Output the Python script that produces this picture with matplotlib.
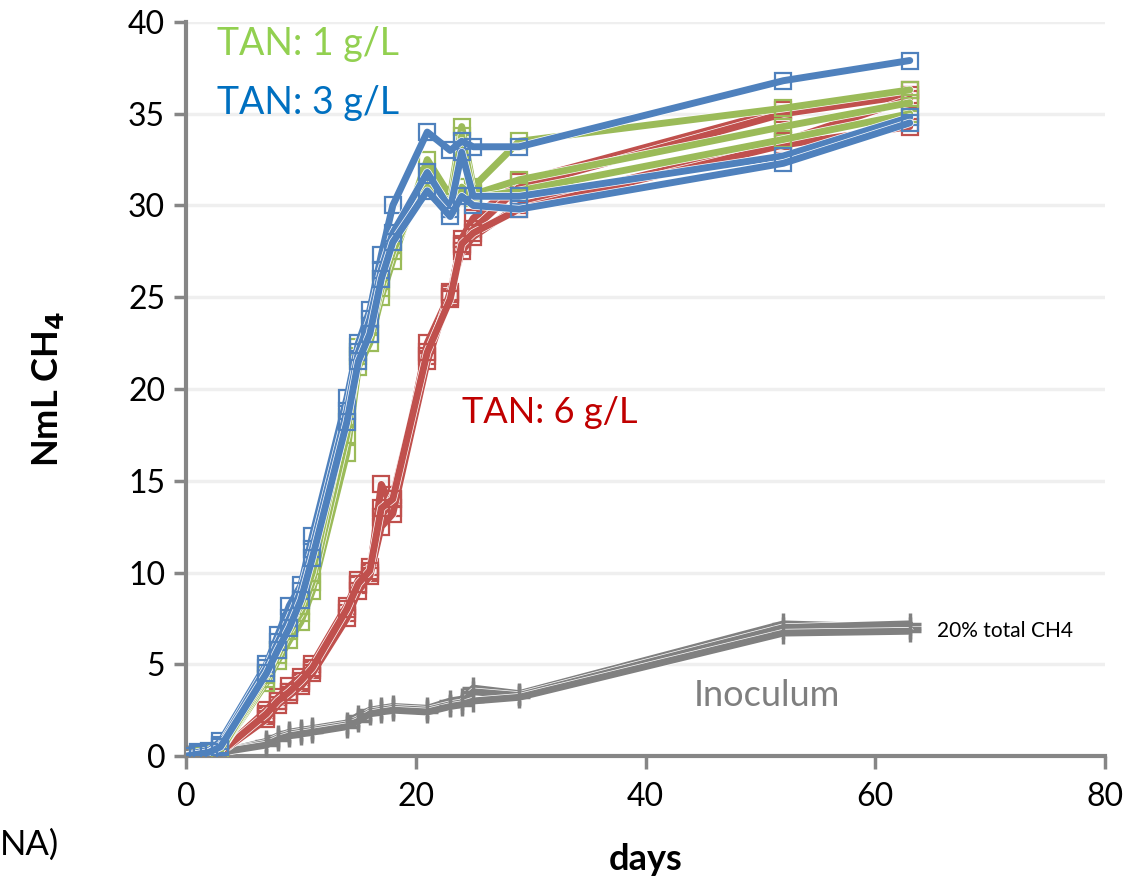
import matplotlib
matplotlib.use('Agg')
import matplotlib.pyplot as plt
import matplotlib.patheffects as pe

plt.rcParams['font.family'] = ['Lato', 'DejaVu Sans']

# dias de amostragem
dias = [0, 1, 2, 3, 7, 8, 9, 10, 11, 14, 15, 16, 17, 18, 21, 23, 24, 25, 29, 52, 63]

# TAN 1 g/L (verde)
tan1_r1 = [0, 0, 0.1, 0.3, 4.0, 5.2, 6.3, 7.3, 9.0, 16.5, 21.2, 22.5, 25.0, 27.0, 32.5, 30.5, 34.3, 31.0, 33.5, 35.3, 36.3]
tan1_r2 = [0, 0, 0.1, 0.3, 4.2, 5.5, 6.8, 7.8, 9.5, 17.5, 21.8, 23.0, 25.5, 27.5, 31.5, 30.0, 33.8, 30.6, 31.4, 34.3, 35.6]
tan1_r3 = [0, 0, 0.1, 0.3, 4.4, 5.8, 7.1, 8.2, 10.0, 18.5, 22.3, 23.5, 26.0, 28.0, 31.0, 30.2, 31.0, 30.4, 30.8, 33.6, 35.0]

# TAN 3 g/L (azul)
tan3_r1 = [0, 0.2, 0.3, 0.8, 5.0, 6.6, 8.2, 9.3, 12.0, 19.5, 22.5, 24.3, 27.3, 30.0, 34.0, 33.0, 33.5, 33.2, 33.2, 36.8, 37.9]
tan3_r2 = [0, 0.1, 0.2, 0.6, 4.8, 6.2, 7.5, 9.0, 11.3, 18.8, 22.0, 23.8, 26.5, 28.5, 31.8, 29.8, 32.9, 30.5, 30.5, 32.7, 34.8]
tan3_r3 = [0, 0.1, 0.2, 0.5, 4.5, 5.8, 7.0, 8.5, 10.8, 18.2, 21.5, 23.0, 26.0, 28.0, 30.8, 29.4, 30.5, 30.0, 29.8, 32.3, 34.5]

# TAN 6 g/L (vermelho)
tan6_r1 = [0, 0, 0.1, 0.2, 2.2, 3.0, 3.5, 4.0, 4.7, 7.8, 9.3, 10.0, 14.8, 13.5, 22.5, 25.2, 28.2, 29.3, 31.3, 35.2, 36.3]
tan6_r2 = [0, 0, 0.1, 0.2, 2.5, 3.2, 3.8, 4.3, 5.0, 8.2, 9.6, 10.3, 13.0, 14.2, 21.8, 25.0, 27.8, 28.7, 31.0, 35.0, 36.0]
tan6_r3 = [0, 0, 0.1, 0.2, 2.0, 2.8, 3.3, 3.8, 4.5, 7.5, 9.0, 9.8, 12.5, 13.2, 21.5, 25.3, 27.5, 28.3, 30.0, 33.5, 35.8]
tan6_r4 = [0, 0, 0.1, 0.2, 2.3, 3.0, 3.5, 4.1, 4.8, 8.0, 9.4, 10.1, 13.5, 14.0, 22.0, 24.9, 27.9, 28.5, 29.8, 33.3, 34.3]

# inoculo (cinza)
ino_r1 = [0, 0.05, 0.1, 0.2, 0.8, 1.1, 1.3, 1.4, 1.5, 1.8, 2.2, 2.5, 2.6, 2.7, 2.6, 3.0, 3.1, 3.7, 3.4, 7.2, 7.0]
ino_r2 = [0, 0.05, 0.1, 0.2, 0.7, 1.0, 1.2, 1.3, 1.4, 1.7, 2.0, 2.4, 2.5, 2.6, 2.5, 2.8, 2.9, 3.5, 3.3, 7.0, 7.2]
ino_r3 = [0, 0.05, 0.1, 0.2, 0.6, 0.9, 1.1, 1.2, 1.3, 1.6, 1.9, 2.3, 2.4, 2.5, 2.4, 2.7, 2.8, 3.0, 3.2, 6.7, 6.8]

verde = '#9BBB59'
azul = '#4F81BD'
vermelho = '#C0504D'
cinza = '#808080'

fig = plt.figure(figsize=(11.37, 8.86), dpi=100)
ax = fig.add_axes([0.1636, 0.1467, 0.8083, 0.8285])

contorno = [pe.Stroke(linewidth=6.0, foreground='white'), pe.Normal()]


def desenha(series, cor, marcador, z):
    # linha com contorno branco e marcadores por cima
    for serie in series:
        ax.plot(dias, serie, color=cor, lw=5.0, solid_capstyle='round',
                solid_joinstyle='round', path_effects=contorno, zorder=z)
        if marcador == '+':
            ax.plot(dias, serie, ls='none', color=cor, marker='+', ms=16, mew=2.5, zorder=z)
        else:
            ax.plot(dias, serie, ls='none', color=cor, marker='s', ms=11, mew=1.6,
                    mfc='none', zorder=z)


desenha([ino_r1, ino_r2, ino_r3], cinza, '+', 3)
desenha([tan6_r1, tan6_r2, tan6_r3, tan6_r4], vermelho, 's', 4)
desenha([tan1_r1, tan1_r2, tan1_r3], verde, 's', 5)
desenha([tan3_r1, tan3_r2, tan3_r3], azul, 's', 6)

ax.set_xlim(0, 80)
ax.set_ylim(0, 40)
ax.set_xticks([0, 20, 40, 60, 80])
ax.set_yticks(range(0, 41, 5))
ax.tick_params(axis='both', labelsize=23, length=9, width=2.5, color='#868686', direction='out')
ax.tick_params(axis='x', pad=10)
ax.tick_params(axis='y', pad=6)

ax.grid(axis='y', color='#EFEFEF', lw=2.5, zorder=0)
ax.set_axisbelow(True)
for lado in ['top', 'right']:
    ax.spines[lado].set_visible(False)
for lado in ['left', 'bottom']:
    ax.spines[lado].set_color('#868686')
    ax.spines[lado].set_linewidth(3)

ax.set_ylabel('NmL CH$_\\mathbf{4}$', fontsize=26, fontweight='bold', labelpad=45)
ax.set_xlabel('days', fontsize=26, fontweight='bold', labelpad=22)

# rotulos
ax.text(2.7, 38.8, 'TAN: 1 g/L', color='#92D050', fontsize=27, va='center')
ax.text(2.7, 35.6, 'TAN: 3 g/L', color='#0070C0', fontsize=27, va='center')
ax.text(24.0, 18.7, 'TAN: 6 g/L', color='#C00000', fontsize=26, va='center')
ax.text(44.2, 3.3, 'Inoculum', color='#7F7F7F', fontsize=26, va='center')
ax.text(65.4, 6.8, '20% total CH4', color='black', fontsize=15, va='center')

fig.text(0.0, 1 - 845 / 886, 'NA)', fontsize=25, ha='left', va='center')

plt.savefig('out.png', dpi=100)
